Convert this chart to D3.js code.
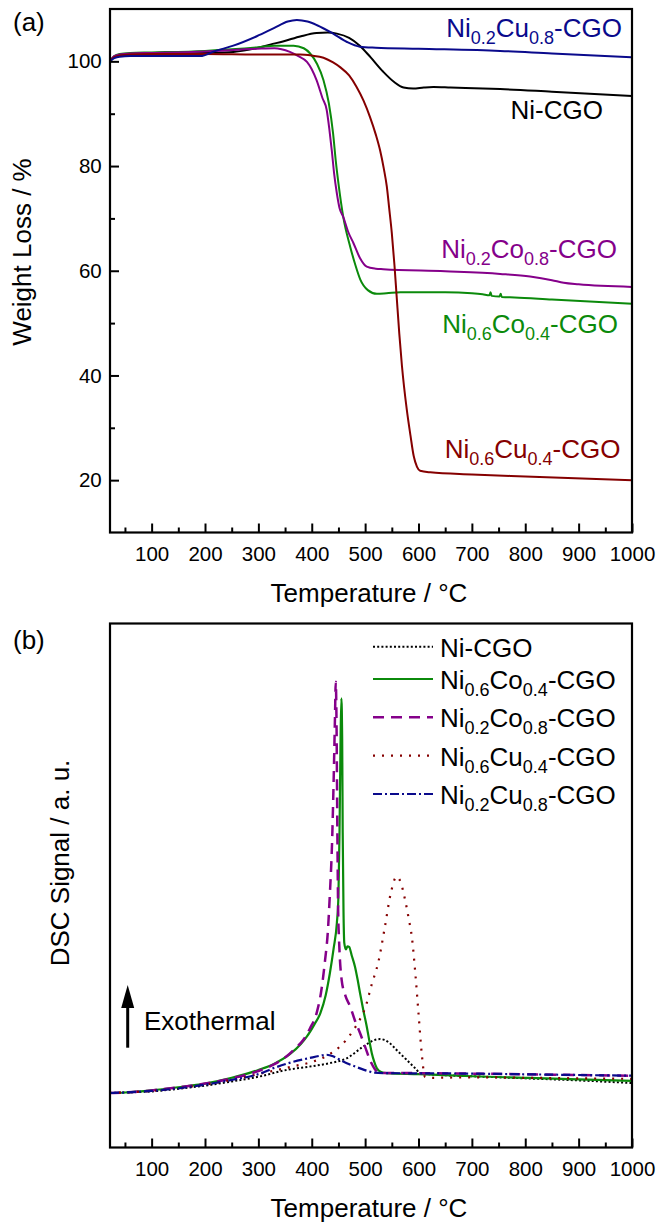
<!DOCTYPE html>
<html><head><meta charset="utf-8">
<script src="https://cdn.jsdelivr.net/npm/d3@7"></script>
<style>
body{margin:0;background:#fff}
svg{display:block}
text{font-family:"Liberation Sans",Arial,Helvetica,sans-serif;fill:#000}
</style>
</head><body>
<svg id="c" width="658" height="1223"></svg>
<script>
// ---------------- DATA ----------------
const tempTicks = [100,200,300,400,500,600,700,800,900,1000];
const tempMinor = [50,150,250,350,450,550,650,750,850,950];
const weightTicks = [20,40,60,80,100];
const weightMinor = [30,50,70,90];

const seriesNames = ["Ni-CGO","Ni_{0.6}Co_{0.4}-CGO","Ni_{0.2}Co_{0.8}-CGO","Ni_{0.6}Cu_{0.4}-CGO","Ni_{0.2}Cu_{0.8}-CGO"];
const seriesColors = ["#000000","#0b8a0b","#85008a","#850000","#0a0a8c"];

// (a) TGA: [temperature °C, weight %]
const tgaNiCGO = [[22,100.0],[30,100.8],[40,101.1],[60,101.3],[100,101.4],[150,101.5],[200,101.6],[253,101.8],[300,102.6],[322,103.2],[346,103.8],[380,104.8],[409,105.4],[430,105.5],[447,105.3],[470,104.5],[490,103.0],[510,100.8],[534,98.0],[555,96.0],[572,95.0],[590,94.8],[610,95.0],[628,95.1],[660,95.0],[753,94.7],[850,94.2],[1000,93.4]];
const tgaNi6Co4 = [[22,100.0],[30,101.0],[40,101.4],[60,101.6],[100,101.7],[200,102.0],[250,102.3],[300,102.7],[330,103.0],[366,103.0],[385,102.5],[397,101.5],[410,99.5],[422,96.4],[432,92.0],[440,86.2],[445,81.0],[450,76.7],[459,70.3],[472,64.6],[482,61.0],[491,58.3],[505,56.3],[522,55.6],[540,55.7],[566,55.9],[650,55.9],[700,55.7],[720,55.5],[733,55.3],[735,55.9],[737,55.2],[752,55.1],[754,55.6],[756,55.0],[780,54.9],[850,54.5],[1000,53.7]];
const tgaNi2Co8 = [[22,100.0],[30,101.0],[40,101.3],[60,101.5],[100,101.6],[200,101.9],[297,102.4],[330,102.5],[359,101.8],[375,101.0],[391,99.9],[400,98.5],[409,96.4],[420,93.0],[428,90.7],[433,87.0],[437.5,83.0],[442,78.5],[447,74.8],[452,72.0],[459,70.3],[468,67.5],[478,65.3],[490,62.5],[503,60.8],[520,60.4],[534,60.3],[650,59.9],[753,59.4],[809,58.9],[850,58.2],[872,57.7],[900,57.4],[1000,56.9]];
const tgaNi6Cu4 = [[22,100.0],[30,100.8],[40,101.1],[60,101.3],[100,101.4],[200,101.4],[300,101.3],[378,101.3],[400,101.1],[422,100.7],[440,99.8],[453,98.9],[470,97.3],[484,95.1],[497,92.5],[509,89.4],[520,86.0],[528,83.0],[535,79.5],[540.6,76.1],[545,72.0],[550,67.2],[555,61.0],[559,55.2],[564,48.0],[569,41.8],[578,33.5],[585,28.5],[591,24.6],[597,22.6],[603,21.8],[622,21.5],[700,21.1],[800,20.7],[1000,20.0]];
const tgaNi2Cu8 = [[22,100.0],[30,100.6],[40,100.9],[60,101.0],[100,101.0],[150,101.0],[191,101.0],[220,102.0],[253,103.0],[297,104.8],[330,106.4],[355,107.6],[372,107.9],[392,107.6],[410,106.9],[440,105.3],[466,103.7],[490,102.8],[520,102.6],[600,102.4],[753,102.0],[850,101.5],[1000,100.8]];

// (b) DSC: [temperature °C, signal a.u.]
const dscNiCGO = [[22,10.4],[50,10.5],[100,10.7],[150,11.2],[200,11.8],[250,12.6],[300,13.5],[353,14.8],[400,15.5],[434,16.1],[465,17.0],[497,19.3],[515,20.4],[528,20.7],[545,20.0],[559,18.6],[572,17.3],[584,16.1],[595,15.0],[603,14.2],[620,14.0],[700,13.6],[800,13.2],[900,12.8],[1000,12.3]];
const dscNi6Co4 = [[22,10.4],[50,10.5],[100,10.9],[150,11.5],[200,12.2],[250,13.3],[300,14.8],[330,16.0],[359,17.8],[380,19.8],[391,21.2],[405,23.5],[416,25.6],[426,29.0],[434,33.3],[441,38.0],[447,42.8],[450,48.0],[452,60.0],[454,78.0],[455.5,85.7],[457,78.0],[458,60.0],[459.5,45.0],[461,39.0],[464,37.8],[467,38.4],[470,38.3],[475,36.6],[481,34.5],[486,32.0],[490.6,29.4],[497,26.0],[503,23.1],[508,20.3],[512.5,18.0],[517,16.4],[522,15.1],[530,14.4],[540,14.2],[600,14.0],[700,13.6],[800,13.3],[900,13.0],[1000,12.7]];
const dscNi2Co8 = [[22,10.4],[50,10.5],[100,10.9],[150,11.5],[200,12.2],[250,13.2],[300,14.6],[330,15.9],[353,17.4],[370,19.0],[384,20.5],[397,22.8],[409,25.6],[418,30.0],[425,35.8],[430,41.0],[434,48.5],[438,58.0],[441,70.0],[443.5,82.0],[445,88.9],[446.5,80.0],[448,60.0],[449.5,45.0],[451,40.0],[456,32.0],[463,29.0],[472,26.9],[481,24.2],[490.6,21.8],[500,19.2],[509,16.7],[518,15.0],[528,14.2],[560,14.2],[700,14.1],[850,13.9],[1000,13.7]];
const dscNi6Cu4 = [[22,10.4],[50,10.5],[100,10.8],[150,11.3],[200,12.0],[250,12.9],[300,14.0],[340,14.9],[370,15.6],[403,16.4],[430,17.6],[453,19.3],[466,20.7],[478,22.4],[490,24.4],[500,26.6],[512,31.0],[525,35.5],[537,42.1],[548,48.5],[559,51.7],[567,50.5],[575,47.2],[582,43.5],[587.5,40.2],[594,33.3],[600,25.6],[606,18.0],[612,13.5],[620,13.3],[700,13.4],[800,13.3],[900,13.2],[1000,13.1]];
const dscNi2Cu8 = [[22,10.4],[50,10.5],[100,10.8],[150,11.3],[200,12.0],[250,12.9],[300,14.0],[330,15.2],[360,16.2],[397,17.1],[415,17.5],[428,17.7],[440,17.4],[450,16.9],[459,16.4],[475,15.7],[490.6,15.1],[505,14.6],[516,14.3],[540,14.2],[700,14.1],[850,13.9],[1000,13.7]];

const tgaData = [tgaNiCGO, tgaNi6Co4, tgaNi2Co8, tgaNi6Cu4, tgaNi2Cu8];
const dscData = [dscNiCGO, dscNi6Co4, dscNi2Co8, dscNi6Cu4, dscNi2Cu8];

// ---------------- LAYOUT / STYLE ----------------
const L = 110, R = 632;
const A = {top: 9, bottom: 532.5};
const B = {top: 623.5, bottom: 1147.5};
const tickFont = 20.5, labFont = 26, subFont = 18, subShift = 7;
const dscDash = ["2,2.2", null, "11,7", "2,7", "9,3,2,3"];
const dscWidth = [2, 2.2, 2.5, 2.2, 2.2];
const labA = [{x:603,y:119.3},{x:618,y:333.3},{x:617,y:258.3},{x:620.5,y:458.3},{x:622,y:36.7}];
const legRows = [646.7, 679, 717.3, 755.7, 794];

const svg = d3.select("#c");
const x = d3.scaleLinear().domain([22,1000]).range([L,R]);
const yA = d3.scaleLinear().domain([10,110]).range([A.bottom, A.top]);
const yB = d3.scaleLinear().domain([0,100]).range([B.bottom, B.top]);

function rich(sel, str){
  const parts = str.split(/(_\{[^}]*\})/).filter(s => s.length);
  let down = false;
  parts.forEach(p => {
    if (p.startsWith("_{")) {
      sel.append("tspan").attr("font-size", subFont).attr("dy", subShift).text(p.slice(2,-1));
      down = true;
    } else {
      const t = sel.append("tspan").text(p);
      if (down) { t.attr("dy", -subShift); down = false; }
    }
  });
}

function xAxes(yBottom){
  const g = svg.append("g").attr("transform", `translate(0,${yBottom})`);
  g.call(d3.axisBottom(x).tickValues(tempTicks).tickSize(-9).tickPadding(14.4).tickFormat(d3.format("d")))
    .call(s => s.select(".domain").remove());
  g.selectAll(".tick line").attr("stroke","#000").attr("stroke-width",2);
  g.selectAll(".tick text").attr("font-size",tickFont).attr("font-family",null).attr("fill","#000");
  const gm = svg.append("g").attr("transform", `translate(0,${yBottom})`);
  gm.call(d3.axisBottom(x).tickValues(tempMinor).tickSize(-5).tickFormat(""))
    .call(s => s.select(".domain").remove());
  gm.selectAll(".tick line").attr("stroke","#000").attr("stroke-width",2);
  svg.append("text").attr("x",369).attr("y",yBottom+69).attr("text-anchor","middle")
    .attr("font-size",labFont).text("Temperature / °C");
}

// ---------- Panel (a) ----------
const lineA = d3.line().x(d => x(d[0])).y(d => yA(d[1])).curve(d3.curveMonotoneX);
svg.append("g").selectAll("path").data(tgaData).join("path")
  .attr("d", lineA).attr("fill","none")
  .attr("stroke",(d,i)=>seriesColors[i]).attr("stroke-width",2);

xAxes(A.bottom);
const gy = svg.append("g").attr("transform",`translate(${L},0)`);
gy.call(d3.axisLeft(yA).tickValues(weightTicks).tickSize(-9).tickPadding(8.3).tickFormat(d3.format("d")))
  .call(s => s.select(".domain").remove());
gy.selectAll(".tick line").attr("stroke","#000").attr("stroke-width",2);
gy.selectAll(".tick text").attr("font-size",tickFont).attr("font-family",null).attr("fill","#000");
const gym = svg.append("g").attr("transform",`translate(${L},0)`);
gym.call(d3.axisLeft(yA).tickValues(weightMinor).tickSize(-5).tickFormat(""))
  .call(s => s.select(".domain").remove());
gym.selectAll(".tick line").attr("stroke","#000").attr("stroke-width",2);

svg.append("rect").attr("x",L).attr("y",A.top).attr("width",R-L).attr("height",A.bottom-A.top)
  .attr("fill","none").attr("stroke","#000").attr("stroke-width",2.2);

seriesNames.forEach((n,i) => {
  const t = svg.append("text").attr("x",labA[i].x).attr("y",labA[i].y)
    .attr("text-anchor","end").attr("font-size",labFont).style("fill",seriesColors[i]);
  rich(t, n);
});

svg.append("text").attr("x",13).attr("y",31).attr("font-size",labFont).text("(a)");
svg.append("text").attr("transform","translate(31,252) rotate(-90)").attr("text-anchor","middle")
  .attr("font-size",labFont).text("Weight Loss / %");

// ---------- Panel (b) ----------
const lineB = d3.line().x(d => x(d[0])).y(d => yB(d[1])).curve(d3.curveMonotoneX);
svg.append("g").selectAll("path").data(dscData).join("path")
  .attr("d", lineB).attr("fill","none")
  .attr("stroke",(d,i)=>seriesColors[i]).attr("stroke-width",(d,i)=>dscWidth[i])
  .attr("stroke-dasharray",(d,i)=>dscDash[i]);

xAxes(B.bottom);
svg.append("rect").attr("x",L).attr("y",B.top).attr("width",R-L).attr("height",B.bottom-B.top)
  .attr("fill","none").attr("stroke","#000").attr("stroke-width",2.2);

// legend
const leg = svg.append("g");
seriesNames.forEach((n,i) => {
  leg.append("line").attr("x1",373).attr("x2",433).attr("y1",legRows[i]).attr("y2",legRows[i])
    .attr("stroke",seriesColors[i]).attr("stroke-width",dscWidth[i]).attr("stroke-dasharray",dscDash[i]);
  const t = leg.append("text").attr("x",440).attr("y",legRows[i]+9.8).attr("font-size",labFont);
  rich(t, n);
});

// exothermal arrow
svg.append("line").attr("x1",127.7).attr("x2",127.7).attr("y1",1047.7).attr("y2",1003)
  .attr("stroke","#000").attr("stroke-width",3);
svg.append("path").attr("d","M127.7,985 L121.2,1008 L134.2,1008 Z").attr("fill","#000");
svg.append("text").attr("x",144).attr("y",1030).attr("font-size",labFont).text("Exothermal");

svg.append("text").attr("x",13).attr("y",649).attr("font-size",labFont).text("(b)");
svg.append("text").attr("transform","translate(68.5,863) rotate(-90)").attr("text-anchor","middle")
  .attr("font-size",labFont).text("DSC Signal / a. u.");
</script>
</body></html>
